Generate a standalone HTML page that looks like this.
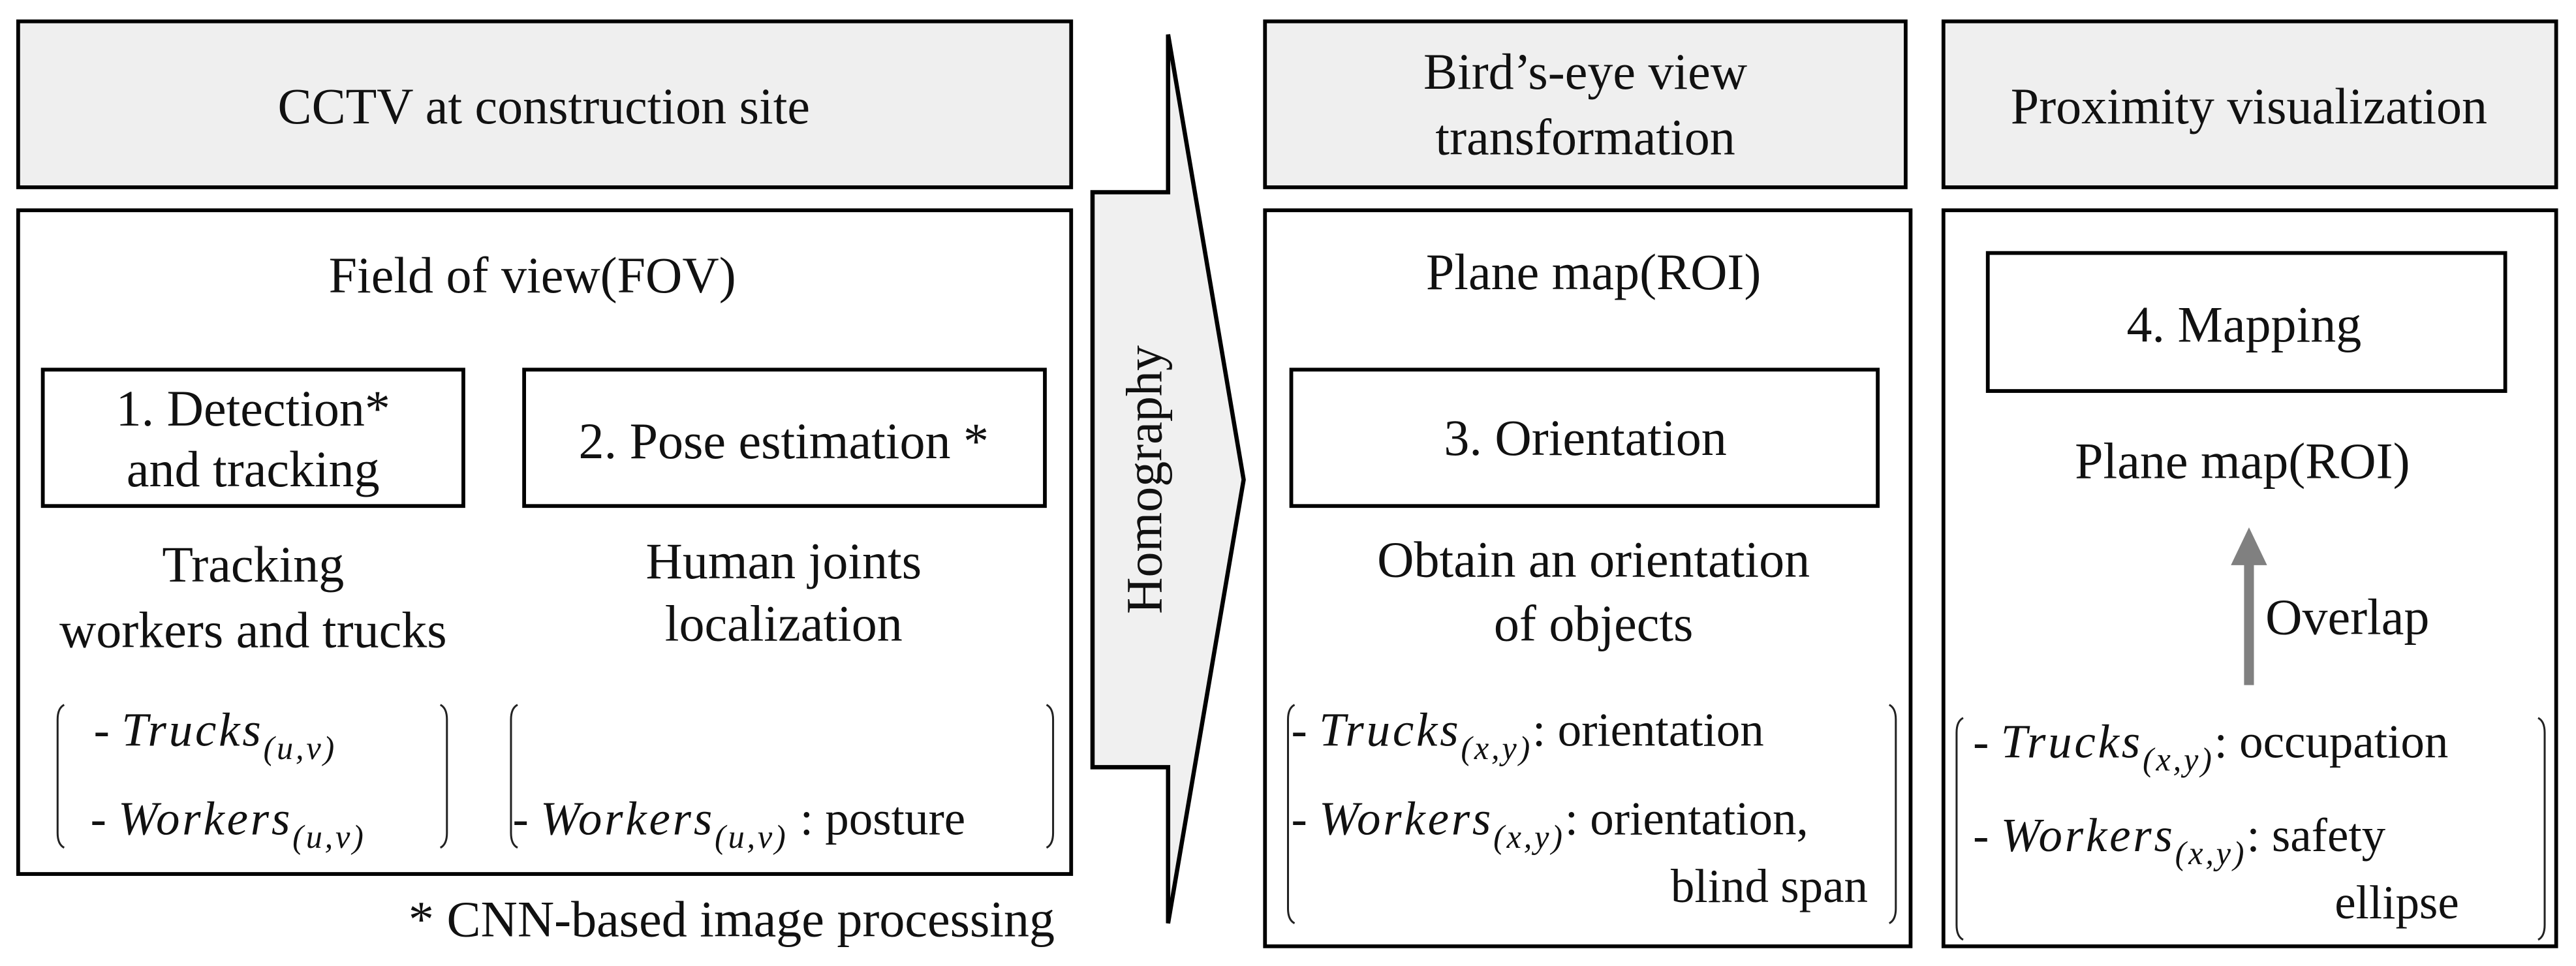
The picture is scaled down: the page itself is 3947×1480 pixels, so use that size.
<!DOCTYPE html>
<html><head><meta charset="utf-8"><style>
html,body{margin:0;padding:0;background:#fff;}
svg{display:block;}
svg text, svg tspan{font-family:"Liberation Serif","Times New Roman","DejaVu Serif",serif;fill:#111;}
.m{font-style:italic;letter-spacing:1.5px;}
</style></head><body>
<svg width="3947" height="1480" viewBox="0 0 1568 588" xmlns="http://www.w3.org/2000/svg" font-family="Liberation Serif, Times New Roman, DejaVu Serif, serif">
<g stroke="#000" stroke-width="2.3" fill="none">
<rect x="11" y="13" width="641" height="101" fill="#efefef"/>
<rect x="11" y="128" width="641" height="404" fill="#fff"/>
<rect x="26" y="225" width="256" height="83"/>
<rect x="319" y="225" width="317" height="83"/>
<rect x="770" y="13" width="390" height="101" fill="#efefef"/>
<rect x="770" y="128" width="393" height="448" fill="#fff"/>
<rect x="786" y="225" width="357" height="83"/>
<rect x="1183" y="13" width="373" height="101" fill="#efefef"/>
<rect x="1183" y="128" width="373" height="448" fill="#fff"/>
<rect x="1210" y="154" width="315" height="84"/>
<path d="M665 117 L711 117 L711 21 L757 292 L711 562 L711 467 L665 467 Z" fill="#f0f0f0" stroke-width="2.6"/>
</g>
<g stroke="#222" stroke-width="1.2" fill="none">
<path d="M39 429 Q35 431 35 438 L35 507 Q35 514 39 516"/>
<path d="M268 429 Q272 431 272 438 L272 507 Q272 514 268 516"/>
<path d="M315 429 Q311 431 311 438 L311 507 Q311 514 315 516"/>
<path d="M637 429 Q641 431 641 438 L641 507 Q641 514 637 516"/>
<path d="M788 429 Q784 431 784 438 L784 553 Q784 560 788 562"/>
<path d="M1150 429 Q1154 431 1154 438 L1154 553 Q1154 560 1150 562"/>
<path d="M1195 437 Q1191 439 1191 446 L1191 563 Q1191 570 1195 572"/>
<path d="M1545 437 Q1549 439 1549 446 L1549 563 Q1549 570 1545 572"/>
</g>
<line x1="1369" y1="417" x2="1369" y2="340" stroke="#808080" stroke-width="6"/>
<polygon points="1369,321 1358,344 1380,344" fill="#808080"/>
<g font-size="31" text-anchor="middle">
<text x="331" y="75">CCTV at construction site</text>
<text x="324" y="178">Field of view(FOV)</text>
<text x="154" y="259">1. Detection*</text>
<text x="154" y="296">and tracking</text>
<text x="477" y="279">2. Pose estimation *</text>
<text x="154" y="354">Tracking</text>
<text x="154" y="394">workers and trucks</text>
<text x="477" y="352">Human joints</text>
<text x="477" y="390">localization</text>
<text x="965" y="54">Bird’s-eye view</text>
<text x="965" y="94">transformation</text>
<text x="970" y="176">Plane map(ROI)</text>
<text x="965" y="277">3. Orientation</text>
<text x="970" y="351">Obtain an orientation</text>
<text x="970" y="390">of objects</text>
<text x="1369" y="75">Proximity visualization</text>
<text x="1366" y="208">4. Mapping</text>
<text x="1365" y="291">Plane map(ROI)</text>
</g>
<text x="1379" y="386" font-size="31">Overlap</text>
<text x="642" y="570" font-size="31" text-anchor="end">* CNN-based image processing</text>
<text transform="translate(707,292) rotate(-90)" font-size="31" text-anchor="middle">Homography</text>
<g font-size="29">
<text x="57" y="454">- <tspan class="m">Trucks</tspan><tspan font-size="20" dy="8" class="m">(u,v)</tspan></text>
<text x="55" y="508">- <tspan class="m">Workers</tspan><tspan font-size="20" dy="8" class="m">(u,v)</tspan></text>
<text x="312" y="508">- <tspan class="m">Workers</tspan><tspan font-size="20" dy="8" class="m">(u,v)</tspan><tspan dy="-8"> : posture</tspan></text>
<text x="786" y="454">- <tspan class="m">Trucks</tspan><tspan font-size="20" dy="8" class="m">(x,y)</tspan><tspan dy="-8">: orientation</tspan></text>
<text x="786" y="508">- <tspan class="m">Workers</tspan><tspan font-size="20" dy="8" class="m">(x,y)</tspan><tspan dy="-8">: orientation,</tspan></text>
<text x="1137" y="549" text-anchor="end">blind span</text>
<text x="1201" y="461">- <tspan class="m">Trucks</tspan><tspan font-size="20" dy="8" class="m">(x,y)</tspan><tspan dy="-8">: occupation</tspan></text>
<text x="1201" y="518">- <tspan class="m">Workers</tspan><tspan font-size="20" dy="8" class="m">(x,y)</tspan><tspan dy="-8">: safety</tspan></text>
<text x="1459" y="559" text-anchor="middle">ellipse</text>
</g>
</svg>
</body></html>
